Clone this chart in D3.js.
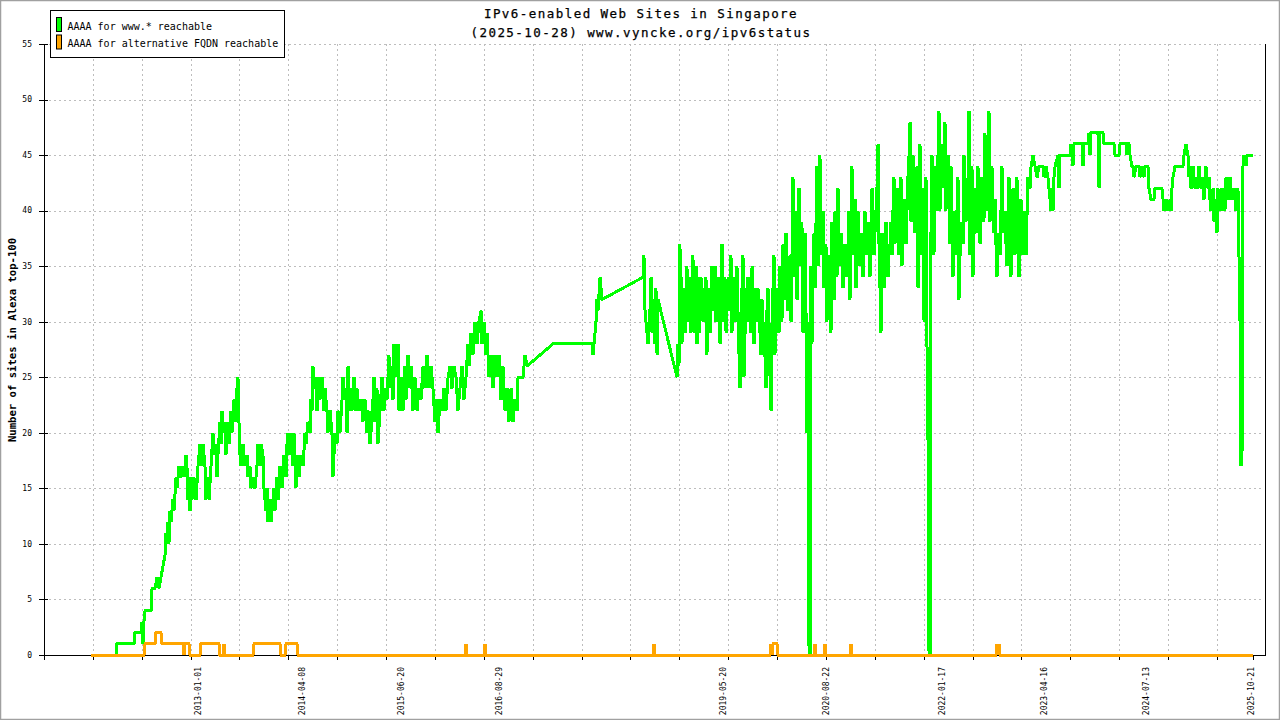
<!DOCTYPE html>
<html>
<head>
<meta charset="utf-8">
<script src="https://cdn.jsdelivr.net/npm/d3@7"></script>
<style>
  body { margin: 0; background: #fff; }
  svg { display: block; }
  text { font-family: "DejaVu Sans Mono", "Liberation Mono", monospace; fill: #000; }
</style>
</head>
<body>
<svg id="chart" width="1280" height="720"></svg>
<script>
"use strict";

// Data: [decimal year, sites]
const wwwReachable = [
  [2011.699,0],[2012.003,0],[2012.015,1],[2012.222,1],[2012.234,2],[2012.307,2],[2012.319,3],[2012.331,1],[2012.343,3],[2012.356,4],
  [2012.429,4],[2012.441,6],[2012.477,6],[2012.502,7],[2012.526,6],[2012.550,7],[2012.574,8],[2012.599,9],[2012.611,11],[2012.623,10],
  [2012.635,12],[2012.647,10],[2012.660,13],[2012.672,12],[2012.696,14],[2012.708,13],[2012.733,16],[2012.745,15],[2012.769,17],[2012.793,16],
  [2012.818,17],[2012.842,16],[2012.854,18],[2012.866,17],[2012.878,14],[2012.891,16],[2012.903,13],[2012.915,16],[2012.927,14],[2012.951,16],
  [2012.976,14],[2013.000,17],[2013.024,19],[2013.036,17],[2013.061,19],[2013.085,17],[2013.097,14],[2013.122,16],[2013.134,14],[2013.158,17],
  [2013.182,20],[2013.195,18],[2013.219,19],[2013.231,16],[2013.243,18],[2013.267,21],[2013.280,19],[2013.292,22],[2013.304,20],[2013.328,21],
  [2013.340,18],[2013.365,21],[2013.377,19],[2013.401,22],[2013.413,20],[2013.438,23],[2013.450,21],[2013.462,23],[2013.486,25],[2013.498,21],
  [2013.511,18],[2013.523,17],[2013.547,19],[2013.571,17],[2013.596,18],[2013.608,16],[2013.632,17],[2013.644,15],[2013.669,16],[2013.693,15],
  [2013.717,17],[2013.729,19],[2013.754,17],[2013.766,19],[2013.790,18],[2013.802,15],[2013.827,13],[2013.839,15],[2013.851,12],[2013.875,14],
  [2013.888,12],[2013.900,13],[2013.924,15],[2013.936,13],[2013.960,16],[2013.973,14],[2013.997,17],[2014.021,15],[2014.046,18],[2014.070,16],
  [2014.082,19],[2014.094,20],[2014.119,18],[2014.131,20],[2014.155,17],[2014.167,20],[2014.191,15],[2014.204,18],[2014.228,16],[2014.252,18],
  [2014.277,17],[2014.301,20],[2014.313,19],[2014.337,21],[2014.362,20],[2014.374,23],[2014.386,22],[2014.398,26],[2014.410,24],[2014.435,25],
  [2014.447,22],[2014.471,25],[2014.483,23],[2014.508,25],[2014.532,22],[2014.544,24],[2014.568,22],[2014.580,20],[2014.605,22],[2014.629,20],
  [2014.641,16],[2014.653,18],[2014.666,20],[2014.690,19],[2014.702,22],[2014.726,20],[2014.751,23],[2014.763,25],[2014.787,23],[2014.799,24],
  [2014.812,20],[2014.824,26],[2014.836,22],[2014.860,24],[2014.872,22],[2014.897,25],[2014.921,22],[2014.933,24],[2014.957,22],[2014.982,23],
  [2015.006,21],[2015.030,23],[2015.055,20],[2015.079,22],[2015.091,19],[2015.115,21],[2015.140,25],[2015.152,21],[2015.176,24],[2015.188,19],
  [2015.213,22],[2015.237,25],[2015.261,22],[2015.286,24],[2015.298,23],[2015.322,27],[2015.334,24],[2015.359,26],[2015.371,23],[2015.383,28],
  [2015.407,25],[2015.432,28],[2015.444,22],[2015.468,25],[2015.492,22],[2015.517,26],[2015.529,23],[2015.553,27],[2015.578,24],[2015.590,26],
  [2015.614,22],[2015.638,25],[2015.663,22],[2015.687,24],[2015.711,23],[2015.736,26],[2015.760,24],[2015.784,27],[2015.809,24],[2015.833,26],
  [2015.857,24],[2015.881,21],[2015.894,23],[2015.918,20],[2015.942,23],[2015.967,22],[2015.991,24],[2016.015,22],[2016.040,25],[2016.064,26],
  [2016.088,24],[2016.112,26],[2016.137,25],[2016.161,22],[2016.185,24],[2016.210,26],[2016.234,23],[2016.258,25],[2016.283,28],[2016.295,26],
  [2016.319,29],[2016.343,27],[2016.368,30],[2016.392,28],[2016.416,30],[2016.441,31],[2016.453,28],[2016.477,30],[2016.502,27],[2016.514,29],
  [2016.538,25],[2016.562,27],[2016.587,24],[2016.611,27],[2016.635,25],[2016.660,27],[2016.684,23],[2016.708,26],[2016.733,22],[2016.757,24],
  [2016.781,21],[2016.806,24],[2016.830,21],[2016.854,23],[2016.879,22],[2016.891,25],[2016.951,25],[2016.976,27],[2017.000,26],[2017.316,28],
  [2017.790,28],[2017.802,27],[2017.827,29],[2017.839,30],[2017.851,32],[2017.863,31],[2017.888,34],[2017.912,32],[2018.410,34],[2018.422,36],
  [2018.435,31],[2018.459,29],[2018.471,28],[2018.495,31],[2018.508,34],[2018.520,29],[2018.544,32],[2018.556,28],[2018.568,33],[2018.581,27],
  [2018.593,32],[2018.824,25],[2018.836,28],[2018.848,26],[2018.860,37],[2018.866,29],[2018.872,30],[2018.878,34],[2018.884,28],[2018.896,31],[2018.909,33],[2018.915,30],[2018.921,29],[2018.933,32],[2018.945,35],
  [2018.951,31],[2018.957,30],[2018.969,33],[2018.982,34],[2018.988,31],[2018.994,29],[2019.006,33],[2019.018,36],[2019.024,30],[2019.030,32],[2019.042,29],[2019.055,35],[2019.061,31],[2019.067,28],[2019.079,32],[2019.091,34],[2019.097,29],[2019.103,31],[2019.115,34],[2019.128,33],
  [2019.140,30],[2019.152,31],[2019.164,33],[2019.176,34],[2019.182,30],[2019.188,27],[2019.200,31],[2019.213,33],[2019.219,30],[2019.225,29],[2019.237,32],[2019.249,35],[2019.255,32],[2019.261,31],[2019.273,33],[2019.286,35],[2019.298,30],[2019.310,32],[2019.322,30],[2019.334,34],
  [2019.340,31],[2019.347,28],[2019.359,33],[2019.371,37],[2019.377,33],[2019.383,30],[2019.395,32],[2019.407,34],[2019.420,29],[2019.432,31],[2019.444,33],[2019.456,34],[2019.468,31],[2019.480,36],[2019.486,32],[2019.492,29],[2019.505,32],[2019.517,34],[2019.529,31],[2019.541,30],
  [2019.547,33],[2019.553,35],[2019.565,31],[2019.578,27],[2019.590,24],[2019.602,30],[2019.614,33],[2019.626,36],[2019.632,30],[2019.638,25],[2019.651,29],[2019.663,33],[2019.669,31],[2019.675,30],[2019.687,34],[2019.699,33],[2019.711,31],[2019.723,29],[2019.730,32],
  [2019.736,35],[2019.748,31],[2019.760,28],[2019.772,31],[2019.784,33],[2019.790,31],[2019.796,30],[2019.808,33],[2019.821,32],[2019.833,29],[2019.845,27],[2019.851,30],[2019.857,32],[2019.869,30],[2019.881,29],[2019.893,27],[2019.906,24],[2019.912,28],[2019.918,31],
  [2019.930,33],[2019.942,28],[2019.955,25],[2019.967,22],[2019.973,27],[2019.979,30],[2019.991,33],[2020.003,36],[2020.009,31],[2020.015,27],[2020.027,31],[2020.040,33],[2020.052,31],[2020.064,29],[2020.070,33],[2020.076,35],[2020.088,32],[2020.100,30],[2020.106,34],[2020.113,37],
  [2020.125,32],[2020.137,33],[2020.143,36],[2020.149,38],[2020.161,34],[2020.173,31],[2020.186,34],[2020.198,36],[2020.204,33],[2020.210,30],[2020.222,36],[2020.234,43],[2020.240,38],[2020.246,34],[2020.258,37],[2020.271,40],[2020.277,35],[2020.283,32],[2020.295,37],[2020.307,42],
  [2020.313,38],[2020.319,35],[2020.331,37],[2020.343,39],[2020.350,33],[2020.356,29],[2020.368,34],[2020.380,38],[2020.386,34],[2020.392,31],[2020.404,20],[2020.417,30],[2020.429,0],[2020.441,0],[2020.453,35],
  [2020.459,31],[2020.465,28],[2020.477,34],[2020.490,38],[2020.496,35],[2020.502,33],[2020.514,39],[2020.526,44],[2020.532,39],[2020.538,35],[2020.550,40],[2020.562,45],[2020.569,40],[2020.575,36],[2020.587,38],[2020.599,40],[2020.605,36],[2020.611,33],[2020.623,35],[2020.635,37],
  [2020.641,33],[2020.647,30],[2020.660,33],[2020.672,36],[2020.684,32],[2020.696,29],[2020.702,34],[2020.708,39],[2020.720,35],[2020.733,32],[2020.739,36],[2020.745,40],[2020.757,37],[2020.769,34],[2020.775,38],[2020.781,42],[2020.793,38],[2020.805,35],[2020.812,37],[2020.818,38],
  [2020.830,35],[2020.842,33],[2020.854,35],[2020.866,37],[2020.878,35],[2020.891,34],[2020.903,37],[2020.915,40],[2020.921,36],[2020.927,32],[2020.939,38],[2020.951,44],[2020.957,40],[2020.963,36],[2020.975,39],[2020.988,41],[2020.994,37],[2021.000,33],[2021.012,37],[2021.024,40],
  [2021.036,37],[2021.049,35],[2021.055,37],[2021.061,38],[2021.073,36],[2021.085,34],[2021.097,37],[2021.109,40],[2021.121,38],[2021.134,36],[2021.146,38],[2021.158,39],[2021.164,36],[2021.170,34],[2021.182,38],[2021.195,42],[2021.207,39],[2021.219,36],[2021.231,38],[2021.243,40],
  [2021.255,42],[2021.268,46],[2021.274,41],[2021.280,37],[2021.292,33],[2021.304,29],[2021.310,34],[2021.316,38],[2021.328,35],[2021.341,33],[2021.353,36],[2021.365,39],[2021.377,36],[2021.389,34],[2021.401,36],[2021.414,37],[2021.426,39],[2021.438,36],[2021.450,40],[2021.462,43],
  [2021.468,40],[2021.474,37],[2021.486,40],[2021.499,42],[2021.511,39],[2021.523,36],[2021.535,40],[2021.547,43],[2021.553,39],[2021.559,35],[2021.571,38],[2021.584,41],[2021.596,39],[2021.608,37],[2021.620,40],[2021.632,43],[2021.645,45],[2021.657,48],[2021.663,43],[2021.669,39],
  [2021.681,42],[2021.693,45],[2021.705,41],[2021.717,38],[2021.730,41],[2021.742,44],[2021.748,38],[2021.754,33],[2021.766,40],[2021.778,46],[2021.784,41],[2021.790,36],[2021.803,39],[2021.815,42],[2021.821,36],[2021.827,30],[2021.839,37],[2021.851,43],[2021.857,35],[2021.863,28],
  [2021.875,20],[2021.888,0],[2021.900,0],[2021.912,38],[2021.924,45],[2021.936,40],[2021.948,36],[2021.955,40],[2021.961,44],[2021.973,42],[2021.985,40],[2021.997,45],[2022.009,49],[2022.015,44],[2022.021,40],[2022.034,43],[2022.046,46],[2022.052,44],[2022.058,42],[2022.070,45],[2022.082,48],[2022.088,44],[2022.094,40],
  [2022.106,43],[2022.119,45],[2022.131,41],[2022.143,37],[2022.149,41],[2022.155,44],[2022.167,39],[2022.179,34],[2022.192,37],[2022.204,40],[2022.210,38],[2022.216,36],[2022.228,40],[2022.240,43],[2022.246,37],[2022.252,32],[2022.265,36],[2022.277,39],[2022.289,38],[2022.301,37],[2022.307,41],[2022.313,45],
  [2022.325,42],[2022.337,39],[2022.350,41],[2022.362,43],[2022.368,46],[2022.374,49],[2022.380,42],[2022.386,36],[2022.398,40],[2022.410,44],[2022.416,39],[2022.422,34],[2022.435,38],[2022.447,42],[2022.453,40],[2022.459,38],[2022.471,41],[2022.483,44],[2022.496,40],[2022.508,37],
  [2022.520,40],[2022.532,43],[2022.544,41],[2022.556,39],[2022.562,43],[2022.568,47],[2022.581,43],[2022.593,40],[2022.605,45],[2022.617,49],[2022.623,44],[2022.629,39],[2022.641,42],[2022.653,44],[2022.666,41],[2022.678,38],[2022.684,40],[2022.690,41],[2022.702,37],[2022.714,34],
  [2022.726,36],[2022.738,38],[2022.745,37],[2022.751,36],[2022.763,40],[2022.775,44],[2022.781,41],[2022.787,38],[2022.799,39],[2022.812,40],[2022.824,37],[2022.836,35],[2022.848,39],[2022.860,43],[2022.872,38],[2022.884,34],[2022.897,38],[2022.909,42],[2022.921,39],[2022.933,36],
  [2022.945,40],[2022.957,43],[2022.969,38],[2022.982,34],[2022.994,38],[2023.006,41],[2023.018,38],[2023.030,36],[2023.043,38],[2023.055,40],
  [2023.067,36],[2023.091,43],[2023.116,42],[2023.128,44],[2023.152,45],[2023.176,44],[2023.201,43],[2023.225,44],[2023.274,44],[2023.286,43],
  [2023.310,44],[2023.334,43],[2023.359,41],[2023.371,40],[2023.383,42],[2023.395,40],[2023.407,43],[2023.420,44],[2023.456,45],[2023.468,42],
  [2023.480,45],[2023.602,45],[2023.614,46],[2023.638,44],[2023.651,46],[2023.748,46],[2023.760,44],[2023.772,46],[2023.821,46],[2023.833,47],
  [2023.845,45],[2023.857,47],[2023.942,47],[2023.955,42],[2023.967,47],[2024.003,47],[2024.015,46],[2024.137,46],[2024.149,45],[2024.198,45],
  [2024.210,46],[2024.283,46],[2024.295,45],[2024.307,46],[2024.319,46],[2024.331,45],[2024.355,44],[2024.368,44],[2024.380,43],[2024.404,44],
  [2024.441,44],[2024.453,43],[2024.477,44],[2024.502,43],[2024.514,44],[2024.550,44],[2024.562,42],[2024.587,41],[2024.623,41],[2024.635,42],
  [2024.720,42],[2024.733,41],[2024.745,40],[2024.769,41],[2024.793,40],[2024.818,41],[2024.830,40],[2024.842,42],[2024.854,43],[2024.879,44],
  [2024.976,44],[2024.988,45],[2025.012,46],[2025.036,45],[2025.049,43],[2025.061,44],[2025.073,42],[2025.097,44],[2025.122,42],[2025.134,43],
  [2025.158,42],[2025.170,44],[2025.195,42],[2025.219,43],[2025.231,41],[2025.255,44],[2025.280,42],[2025.292,43],[2025.304,41],[2025.316,40],
  [2025.341,42],[2025.353,39],[2025.365,41],[2025.389,38],[2025.401,42],[2025.426,40],[2025.438,42],[2025.450,40],[2025.462,42],[2025.486,40],
  [2025.499,43],[2025.523,41],[2025.547,43],[2025.571,41],[2025.596,42],[2025.620,40],[2025.644,42],[2025.669,30],[2025.681,17],[2025.693,18],
  [2025.705,44],[2025.717,45],[2025.742,44],[2025.754,45],[2025.822,45]
];

const altReachable = [
  [2011.699,0],[2012.343,0],[2012.356,1],[2012.477,1],[2012.489,2],[2012.550,2],[2012.562,1],[2012.818,1],[2012.830,0],[2012.842,1],
  [2012.891,1],[2012.903,0],[2013.024,0],[2013.036,1],[2013.255,1],[2013.267,0],[2013.304,0],[2013.316,1],[2013.328,0],[2013.669,0],
  [2013.681,1],[2013.997,1],[2014.009,0],[2014.058,0],[2014.070,1],[2014.204,1],[2014.216,0],[2016.246,0],[2016.258,1],[2016.270,0],
  [2016.477,0],[2016.489,1],[2016.502,0],[2018.532,0],[2018.544,1],[2018.556,0],[2019.954,0],[2019.967,1],[2019.979,0],[2019.991,1],
  [2020.040,1],[2020.052,0],[2020.490,0],[2020.502,1],[2020.514,0],[2020.611,0],[2020.623,1],[2020.635,0],[2020.927,0],[2020.939,1],
  [2020.951,0],[2022.702,0],[2022.714,1],[2022.726,0],[2022.738,1],[2022.751,0],[2025.822,0]
];

const xLabels = ["2013-01-01", "2014-04-08", "2015-06-20", "2016-08-29", "2019-05-20",
                 "2020-08-22", "2022-01-17", "2023-04-16", "2024-07-13", "2025-10-21"];
const yTicks = [0, 5, 10, 15, 20, 25, 30, 35, 40, 45, 50, 55];
const seriesNames = ["AAAA for www.* reachable", "AAAA for alternative FQDN reachable"];
const seriesColors = ["#00ff00", "#ffa500"];
const titleLines = ["IPv6-enabled Web Sites in Singapore", "(2025-10-28) www.vyncke.org/ipv6status"];
const yTitle = "Number of sites in Alexa top-100";

function dateToYear(s) {
  const d = new Date(s + "T00:00:00Z");
  const yr = d.getUTCFullYear();
  const start = Date.UTC(yr, 0, 1);
  const len = Date.UTC(yr + 1, 0, 1) - start;
  return yr + (d - start) / len;
}

function drawChart() {
  const svg = d3.select("#chart");
  const plotLeft = 44, plotRight = 1265.5, plotTop = 44, plotBottom = 655;

  const x = d3.scaleLinear().domain([2011.1277, 2025.9787]).range([plotLeft, plotRight]);
  const y = d3.scaleLinear().domain([0, 55]).range([plotBottom, plotTop]);

  // regular x ticks (gnuplot interval)
  const xTicks = d3.range(0, 24).map(k => 2011.721 + k * 0.5942);

  // Page border
  svg.append("rect")
      .attr("x", 0.5).attr("y", 0.5).attr("width", 1279).attr("height", 719)
      .attr("fill", "#fff").attr("stroke", "#a0a0a0").attr("stroke-width", 1.5);

  // Grid
  const grid = svg.append("g").attr("shape-rendering", "crispEdges")
      .attr("stroke", "#bdbdbd").attr("stroke-dasharray", "2,3");

  grid.selectAll("line.h")
      .data(yTicks.filter(d => d > 0))
      .enter().append("line")
      .attr("x1", plotLeft).attr("x2", plotRight - 4)
      .attr("y1", d => Math.round(y(d)) + 0.5)
      .attr("y2", d => Math.round(y(d)) + 0.5);

  grid.selectAll("line.v")
      .data(xTicks)
      .enter().append("line")
      .attr("x1", d => Math.round(x(d)) + 0.5)
      .attr("x2", d => Math.round(x(d)) + 0.5)
      .attr("y1", plotTop).attr("y2", plotBottom);

  // Axes
  const axes = svg.append("g").attr("shape-rendering", "crispEdges")
      .attr("stroke", "#000").attr("stroke-width", 1);

  axes.append("line").attr("x1", plotLeft + 0.5).attr("x2", plotLeft + 0.5)
      .attr("y1", plotTop).attr("y2", plotBottom + 5);
  axes.append("line").attr("x1", plotRight).attr("x2", plotRight)
      .attr("y1", plotTop).attr("y2", plotBottom);
  axes.append("line").attr("x1", plotLeft).attr("x2", plotRight)
      .attr("y1", plotBottom + 0.5).attr("y2", plotBottom + 0.5);

  axes.selectAll("line.yt")
      .data(yTicks)
      .enter().append("line")
      .attr("x1", plotLeft - 5).attr("x2", plotLeft + 4)
      .attr("y1", d => Math.round(y(d)) + 0.5)
      .attr("y2", d => Math.round(y(d)) + 0.5);

  axes.selectAll("line.xt")
      .data(xTicks.concat([dateToYear("2025-10-28")]))
      .enter().append("line")
      .attr("x1", d => Math.round(x(d)) + 0.5)
      .attr("x2", d => Math.round(x(d)) + 0.5)
      .attr("y1", plotBottom).attr("y2", plotBottom + 5);

  // Tick labels
  svg.append("g").selectAll("text")
      .data(yTicks)
      .enter().append("text")
      .attr("x", 32).attr("y", d => y(d))
      .attr("dy", "0.35em")
      .attr("text-anchor", "end")
      .attr("font-size", 8)
      .text(d => d);

  svg.append("g").selectAll("text")
      .data(xLabels)
      .enter().append("text")
      .attr("transform", d => `translate(${x(dateToYear(d))},667) rotate(-90)`)
      .attr("dy", "0.35em")
      .attr("text-anchor", "end")
      .attr("font-size", 8)
      .text(d => d);

  // Axis title
  svg.append("text")
      .attr("transform", "translate(12,340) rotate(-90)")
      .attr("dy", "0.35em")
      .attr("text-anchor", "middle")
      .attr("font-size", 10.6)
      .attr("font-weight", "bold")
      .text(yTitle);

  // Title
  svg.append("g").selectAll("text")
      .data(titleLines)
      .enter().append("text")
      .attr("x", 641).attr("y", (d, i) => 17.5 + i * 19)
      .attr("text-anchor", "middle")
      .attr("font-size", 12.5)
      .attr("letter-spacing", "1.45px")
      .attr("stroke", "#000").attr("stroke-width", 0.25)
      .text(d => d);

  // Lines
  const line = d3.line().x(d => x(d[0])).y(d => y(d[1]));

  [wwwReachable, altReachable].forEach((series, i) => {
    svg.append("path")
        .datum(series)
        .attr("fill", "none")
        .attr("stroke", seriesColors[i])
        .attr("stroke-width", 3)
        .attr("stroke-linejoin", "miter")
        .attr("stroke-miterlimit", 2)
        .attr("shape-rendering", "crispEdges")
        .attr("d", line);
  });

  // Legend
  const legend = svg.append("g");
  legend.append("rect")
      .attr("x", 50.5).attr("y", 10.5).attr("width", 234).attr("height", 47)
      .attr("fill", "#fff").attr("stroke", "#000").attr("stroke-width", 1);

  seriesNames.forEach((name, i) => {
    legend.append("rect")
        .attr("x", 56.5).attr("y", 17.5 + i * 17.5).attr("width", 5).attr("height", 14)
        .attr("fill", seriesColors[i]).attr("stroke", "#000").attr("stroke-width", 1);
    legend.append("text")
        .attr("x", 67.5).attr("y", 29.5 + i * 17.5)
        .attr("font-size", 10)
        .text(name);
  });
}

drawChart();
</script>
</body>
</html>
